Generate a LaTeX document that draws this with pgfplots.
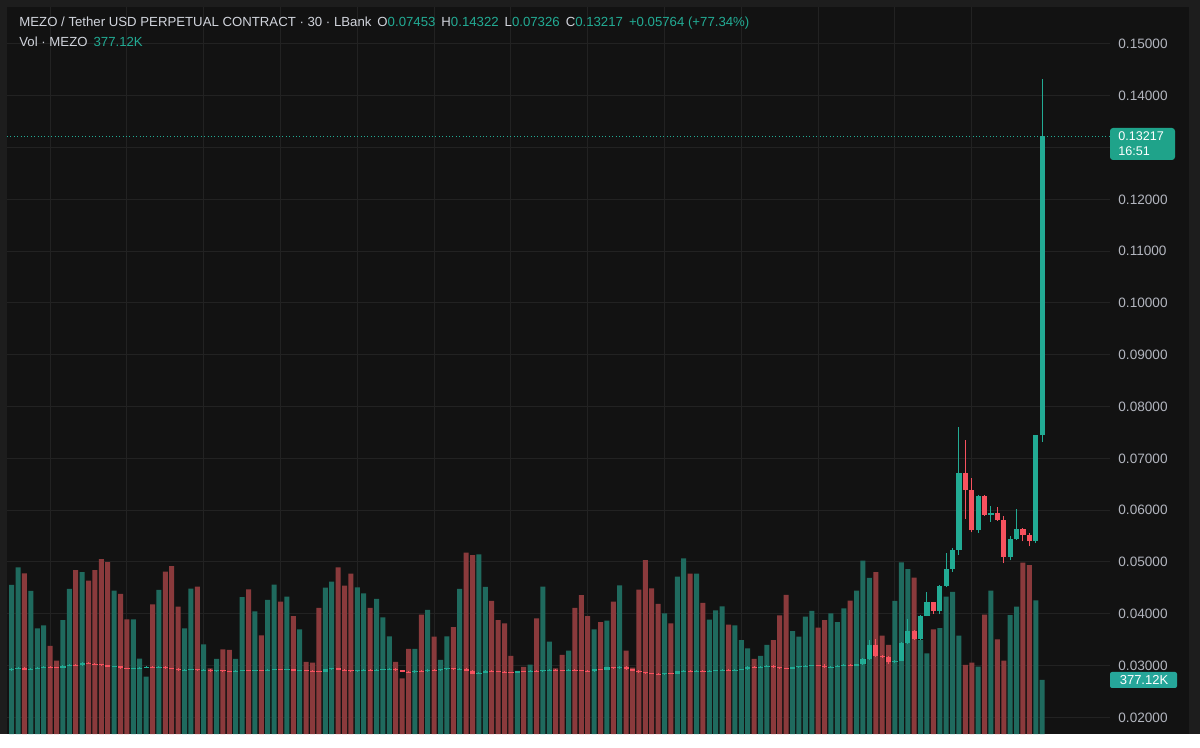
\documentclass[border=0pt]{standalone}
\usepackage{pgfplots}
\usepackage{pgfplotstable}
\pgfplotsset{compat=1.18}
\usepackage{fontspec}
\setmainfont{Liberation Sans}
\definecolor{bgout}{HTML}{1D1D1D}
\definecolor{bgpanel}{HTML}{121212}
\definecolor{gridc}{HTML}{222222}
\definecolor{cg}{HTML}{22AB94}
\definecolor{cr}{HTML}{F7525F}
\definecolor{vg}{HTML}{1F6A5E}
\definecolor{vr}{HTML}{8A3A3C}
\definecolor{txt}{HTML}{D1D4DC}
\definecolor{axtxt}{HTML}{B2B5BE}
\definecolor{boxg}{HTML}{1FA38A}
\definecolor{boxv}{HTML}{26A69A}

\pgfplotstableread{
k v
1 1041
2 1164
4 999
5 738
6 759
9 796
10 1013
12 1131
17 1001
20 801
21 526
22 400
24 1006
28 738
29 1015
31 626
33 524
36 524
37 955
39 857
41 936
42 1043
44 959
46 731
50 1022
51 1064
55 1024
56 982
58 943
59 815
60 682
64 594
66 866
68 517
69 682
71 1013
74 1255
75 1027
80 440
82 484
84 1029
85 645
88 582
92 731
94 791
96 1038
103 843
105 1099
106 1227
108 1120
110 798
111 864
112 892
114 759
115 656
116 598
118 545
119 622
123 719
124 680
125 819
126 859
129 843
130 782
131 878
133 1001
134 1211
135 1090
139 929
140 1199
141 1152
143 656
144 563
146 740
147 959
148 992
149 687
152 470
154 1001
157 831
158 889
161 934
162 377.12
}\volgreen

\pgfplotstableread{
k v
3 1122
7 615
8 512
11 1145
13 1071
14 1145
15 1222
16 1201
18 978
19 801
23 906
25 1134
26 1173
27 889
30 1029
32 459
34 591
35 587
38 1010
40 689
43 924
45 824
47 503
48 498
49 880
52 1164
53 1036
54 1120
57 880
61 503
62 389
63 594
65 833
67 680
70 747
72 1266
73 1250
76 929
77 796
78 773
79 545
81 468
83 808
86 459
87 552
89 880
90 969
91 824
93 782
95 924
97 582
98 463
99 1008
100 1215
101 1017
102 908
104 773
107 1120
109 915
113 764
117 524
120 656
121 829
122 971
127 743
128 796
132 931
136 1131
137 687
138 622
142 1092
145 731
150 482
151 498
153 833
155 661
156 512
159 1196
160 1180
}\volred

\pgfplotstableread{
k o h l c
1 0.0291 0.0295 0.0290 0.0294
2 0.0294 0.0297 0.0293 0.0296
4 0.0292 0.0295 0.0291 0.0294
5 0.0294 0.0297 0.0293 0.0296
6 0.0296 0.0299 0.0295 0.0298
9 0.0296 0.0301 0.0295 0.0300
10 0.0300 0.0303 0.0299 0.0302
12 0.0301 0.0306 0.0300 0.0305
17 0.0298 0.0300 0.0297 0.0299
20 0.0294 0.0296 0.0293 0.0295
21 0.0295 0.0297 0.0294 0.0296
22 0.0296 0.0299 0.0295 0.0298
24 0.0296 0.0299 0.0295 0.0298
28 0.0291 0.0293 0.0290 0.0292
29 0.0292 0.0294 0.0291 0.0293
31 0.0291 0.0293 0.0290 0.0292
33 0.0289 0.0292 0.0288 0.0291
36 0.0288 0.0291 0.0287 0.0290
37 0.0290 0.0292 0.0289 0.0291
39 0.0290 0.0292 0.0289 0.0291
41 0.0290 0.0293 0.0289 0.0292
42 0.0292 0.0294 0.0291 0.0293
44 0.0292 0.0294 0.0291 0.0293
46 0.0290 0.0292 0.0289 0.0291
50 0.0288 0.0294 0.0287 0.0293
51 0.0293 0.0296 0.0292 0.0295
55 0.0289 0.0292 0.0288 0.0291
56 0.0291 0.0293 0.0290 0.0292
58 0.0291 0.0293 0.0290 0.0292
59 0.0292 0.0294 0.0291 0.0293
60 0.0293 0.0295 0.0292 0.0294
64 0.0287 0.0291 0.0286 0.0290
66 0.0289 0.0293 0.0288 0.0292
68 0.0291 0.0294 0.0290 0.0293
69 0.0293 0.0296 0.0292 0.0295
71 0.0293 0.0295 0.0292 0.0294
74 0.0284 0.0287 0.0283 0.0286
75 0.0286 0.0291 0.0285 0.0290
80 0.0286 0.0290 0.0285 0.0289
82 0.0288 0.0291 0.0287 0.0290
84 0.0289 0.0292 0.0288 0.0291
85 0.0291 0.0293 0.0290 0.0292
88 0.0290 0.0293 0.0289 0.0292
92 0.0289 0.0294 0.0288 0.0293
94 0.0292 0.0298 0.0291 0.0297
96 0.0295 0.0299 0.0294 0.0298
103 0.0283 0.0286 0.0282 0.0285
105 0.0284 0.0290 0.0283 0.0289
106 0.0289 0.0291 0.0288 0.0290
108 0.0288 0.0291 0.0287 0.0290
110 0.0289 0.0291 0.0288 0.0290
111 0.0290 0.0292 0.0289 0.0291
112 0.0291 0.0293 0.0290 0.0292
114 0.0291 0.0293 0.0290 0.0292
115 0.0292 0.0294 0.0291 0.0293
116 0.0293 0.0299 0.0292 0.0298
118 0.0297 0.0299 0.0296 0.0298
119 0.0298 0.0301 0.0297 0.0300
123 0.0294 0.0298 0.0293 0.0297
124 0.0297 0.0300 0.0296 0.0299
125 0.0299 0.0301 0.0298 0.0300
126 0.0300 0.0302 0.0299 0.0301
129 0.0297 0.0299 0.0296 0.0298
130 0.0298 0.0301 0.0297 0.0300
131 0.0300 0.0303 0.0299 0.0302
133 0.0300 0.0304 0.0299 0.0303
134 0.0303 0.0314 0.0302 0.0312
135 0.0312 0.0350 0.0311 0.0339
139 0.0306 0.0311 0.0305 0.0309
140 0.0309 0.0345 0.0308 0.0343
141 0.0343 0.0390 0.0341 0.0366
143 0.0351 0.0398 0.0349 0.0396
144 0.0396 0.0443 0.0395 0.0422
146 0.0406 0.0456 0.0400 0.0454
147 0.0454 0.0517 0.0451 0.0486
148 0.0486 0.0527 0.0481 0.0524
149 0.0524 0.0761 0.0514 0.0671
152 0.0561 0.0629 0.0556 0.0628
154 0.0591 0.0608 0.0578 0.0594
157 0.0510 0.0551 0.0503 0.0544
158 0.0544 0.0602 0.0543 0.0563
161 0.0540 0.0746 0.0537 0.07453
162 0.07453 0.14322 0.07326 0.13217
}\cgreen

\pgfplotstableread{
k o h l c
3 0.0296 0.0297 0.0291 0.0292
7 0.0298 0.0299 0.0296 0.0297
8 0.0297 0.0298 0.0295 0.0296
11 0.0302 0.0303 0.0300 0.0301
13 0.0305 0.0306 0.0303 0.0304
14 0.0304 0.0305 0.0302 0.0303
15 0.0303 0.0304 0.0300 0.0301
16 0.0301 0.0302 0.0297 0.0298
18 0.0299 0.0300 0.0294 0.0295
19 0.0295 0.0296 0.0293 0.0294
23 0.0298 0.0299 0.0295 0.0296
25 0.0298 0.0299 0.0294 0.0295
26 0.0295 0.0296 0.0293 0.0294
27 0.0294 0.0295 0.0290 0.0291
30 0.0293 0.0294 0.0290 0.0291
32 0.0292 0.0293 0.0288 0.0289
34 0.0291 0.0292 0.0288 0.0289
35 0.0289 0.0290 0.0287 0.0288
38 0.0291 0.0292 0.0289 0.0290
40 0.0291 0.0292 0.0289 0.0290
43 0.0293 0.0294 0.0291 0.0292
45 0.0293 0.0294 0.0289 0.0290
47 0.0291 0.0292 0.0289 0.0290
48 0.0290 0.0291 0.0288 0.0289
49 0.0289 0.0290 0.0287 0.0288
52 0.0295 0.0296 0.0291 0.0292
53 0.0292 0.0293 0.0290 0.0291
54 0.0291 0.0292 0.0288 0.0289
57 0.0292 0.0293 0.0290 0.0291
61 0.0294 0.0295 0.0290 0.0291
62 0.0291 0.0292 0.0287 0.0288
63 0.0288 0.0289 0.0286 0.0287
65 0.0290 0.0291 0.0288 0.0289
67 0.0292 0.0293 0.0290 0.0291
70 0.0295 0.0296 0.0292 0.0293
72 0.0294 0.0295 0.0289 0.0290
73 0.0290 0.0291 0.0283 0.0284
76 0.0290 0.0291 0.0288 0.0289
77 0.0289 0.0290 0.0287 0.0288
78 0.0288 0.0289 0.0286 0.0287
79 0.0287 0.0288 0.0285 0.0286
81 0.0289 0.0290 0.0287 0.0288
83 0.0290 0.0291 0.0288 0.0289
86 0.0292 0.0293 0.0290 0.0291
87 0.0291 0.0292 0.0289 0.0290
89 0.0292 0.0293 0.0290 0.0291
90 0.0291 0.0292 0.0289 0.0290
91 0.0290 0.0291 0.0288 0.0289
93 0.0293 0.0294 0.0291 0.0292
95 0.0297 0.0298 0.0294 0.0295
97 0.0298 0.0299 0.0292 0.0293
98 0.0293 0.0294 0.0289 0.0290
99 0.0290 0.0291 0.0286 0.0287
100 0.0287 0.0288 0.0284 0.0285
101 0.0285 0.0286 0.0283 0.0284
102 0.0284 0.0285 0.0282 0.0283
104 0.0285 0.0286 0.0283 0.0284
107 0.0290 0.0291 0.0287 0.0288
109 0.0290 0.0291 0.0288 0.0289
113 0.0292 0.0293 0.0290 0.0291
117 0.0298 0.0299 0.0296 0.0297
120 0.0300 0.0301 0.0296 0.0297
121 0.0297 0.0298 0.0294 0.0295
122 0.0295 0.0296 0.0293 0.0294
127 0.0301 0.0302 0.0299 0.0300
128 0.0300 0.0303 0.0295 0.0297
132 0.0302 0.0303 0.0299 0.0300
136 0.0339 0.0351 0.0316 0.0318
137 0.0318 0.0320 0.0314 0.0316
138 0.0316 0.0318 0.0304 0.0306
142 0.0366 0.0368 0.0349 0.0351
145 0.0422 0.0423 0.0400 0.0406
150 0.0671 0.0736 0.0583 0.0639
151 0.0639 0.0662 0.0557 0.0561
153 0.0628 0.0629 0.0589 0.0591
155 0.0594 0.0607 0.0580 0.0582
156 0.0582 0.0589 0.0498 0.0510
159 0.0563 0.0565 0.0540 0.0553
160 0.0553 0.0556 0.0530 0.0540
}\cred

\pgfplotsset{
  chartgeom/.style={
    at={(3.5pt,0pt)}, anchor=south west, scale only axis,
    width=551.5pt, height=363.5pt,
    xmin=0.266, xmax=172.6, clip=true,
  }
}

\begin{document}
\begin{tikzpicture}
\fill[bgout] (0pt,0pt) rectangle (600pt,367pt);
\fill[bgpanel] (3.5pt,0pt) rectangle (594.5pt,363.5pt);

% grid and price labels (0.13000 is hidden by the last-price box)
\begin{axis}[chartgeom,
  ymin=0.016795, ymax=0.157143,
  axis line style={draw=none}, tick style={draw=none}, major tick length=0pt,
  xtick={7,19,...,151}, xticklabels={},
  ytick={0.02,0.03,0.04,0.05,0.06,0.07,0.08,0.09,0.10,0.11,0.12,0.14,0.15},
  extra y ticks={0.13}, extra y tick labels={}, extra y tick style={grid=major},
  yticklabel pos=right,
  yticklabel style={font=\fontsize{6.8}{8}\selectfont, text=axtxt, inner sep=0pt, anchor=west, xshift=4pt,
    /pgf/number format/fixed, /pgf/number format/fixed zerofill, /pgf/number format/precision=5,
    /pgf/number format/assume math mode=true},
  xmajorgrids, ymajorgrids,
  major grid style={draw=gridc, line width=0.5pt},
]
\addplot[draw=none] coordinates {(1,0.03)};
\end{axis}

% volume
\begin{axis}[chartgeom, ymin=0, ymax=5077, hide axis]
\addplot[ybar, bar width=2.5pt, bar shift=0pt, fill=vg, draw=none] table[x=k, y=v] {\volgreen};
\addplot[ybar, bar width=2.5pt, bar shift=0pt, fill=vr, draw=none] table[x=k, y=v] {\volred};
\end{axis}

% candles
\begin{axis}[chartgeom, ymin=0.016795, ymax=0.157143, hide axis]
\addplot[cg, line width=0.5pt, dash pattern=on 0.5pt off 1.2pt] coordinates {(0.266,0.13217) (172.6,0.13217)};
\addplot[draw=none, error bars/.cd, y dir=plus, y explicit, error mark=none,
  error bar style={draw=cg, line width=0.5pt}]
  table[x=k, y=l, y error plus expr=\thisrow{h}-\thisrow{l}] {\cgreen};
\addplot[draw=none, error bars/.cd, y dir=plus, y explicit, error mark=none,
  error bar style={draw=cr, line width=0.5pt}]
  table[x=k, y=l, y error plus expr=\thisrow{h}-\thisrow{l}] {\cred};
\addplot[draw=none, error bars/.cd, y dir=plus, y explicit, error mark=none,
  error bar style={draw=cg, line width=2.6pt}]
  table[x=k, y=o, y error plus expr=\thisrow{c}-\thisrow{o}] {\cgreen};
\addplot[draw=none, error bars/.cd, y dir=plus, y explicit, error mark=none,
  error bar style={draw=cr, line width=2.6pt}]
  table[x=k, y=c, y error plus expr=\thisrow{o}-\thisrow{c}] {\cred};
\end{axis}

% last price label
\fill[boxg, rounded corners=1.5pt] (555pt,287pt) rectangle (587.5pt,303pt);
\node[anchor=west, inner sep=0pt, text=white, align=left, font=\fontsize{6.3}{7.6}\selectfont] at (559pt,295pt) {0.13217\\16:51};
% volume label
\fill[boxv, rounded corners=1pt] (555pt,23pt) rectangle (588.5pt,31pt);
\node[inner sep=0pt, text=white, font=\fontsize{6.5}{7}\selectfont] at (572pt,27pt) {377.12K};

% header
\node[anchor=base west, inner sep=0pt, text=txt, font=\fontsize{6.6}{7.5}\selectfont] at (9.5pt,353.8pt)
  {MEZO / Tether USD PERPETUAL CONTRACT · 30 · LBank\hspace{3pt}O{\color{cg}0.07453}\hspace{3pt}H{\color{cg}0.14322}\hspace{3pt}L{\color{cg}0.07326}\hspace{3pt}C{\color{cg}0.13217}\hspace{3pt}{\color{cg}+0.05764 (+77.34\%)}};
\node[anchor=base west, inner sep=0pt, text=txt, font=\fontsize{6.6}{7.5}\selectfont] at (9.5pt,343.8pt)
  {Vol · MEZO\hspace{3pt}{\color{cg}377.12K}};
\end{tikzpicture}
\end{document}
